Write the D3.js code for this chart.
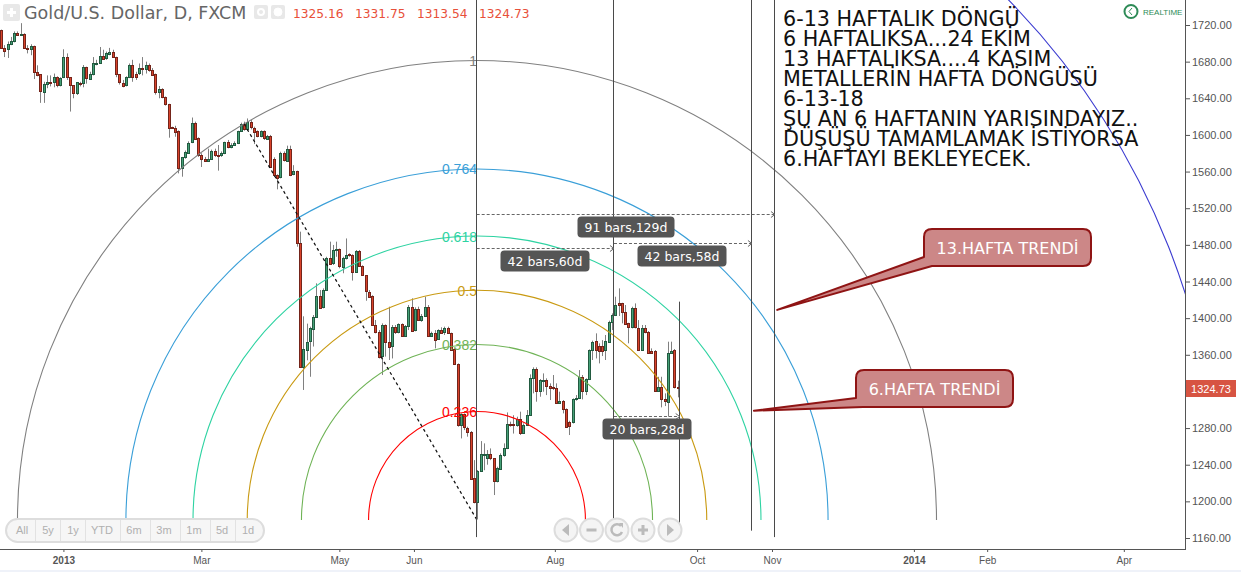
<!DOCTYPE html>
<html><head><meta charset="utf-8">
<script src="https://cdn.jsdelivr.net/npm/d3@7"></script>
<style>html,body{margin:0;padding:0;background:#fff;overflow:hidden}svg{display:block}</style>
</head><body><svg id="c" width="1241" height="572"></svg>
<script>
const opens=[1714.5,1695,1693,1699,1702,1711,1709,1710,1695,1694,
1697,1669,1666,1647,1656,1658,1658,1663,1654,1663,
1685,1663,1654,1645,1657,1656,1674,1661.4,1666,1678,
1678,1686,1683,1689,1691,1685,1666,1657,1654,1663,
1676,1666.5,1667,1673,1672,1676,1671,1667,1647,1650,
1641,1634,1608.6,1608,1604,1564,1576,1581,1592,1613,
1597,1578.5,1574,1572,1574,1582.5,1578,1578,1580,1592,
1586.5,1589,1591,1604,1612,1606,1614,1608,1604,1598.5,
1604,1596,1599,1574,1556.6,1553.7,1580,1572,1584.6,1556.6,
1560.6,1481.7,1346,1366,1374.3,1388.9,1401.6,1424.5,1411.8,1430.7,
1466,1459.9,1473.7,1475,1456,1465.3,1469.7,1469,1450.7,1473.3,
1457,1446.7,1429,1424,1392.5,1385,1359,1392.5,1374.3,1368.9,
1390,1384,1393.2,1380.5,1391.4,1412.5,1386.3,1409.6,1398,1402.3,
1412.5,1381.2,1384,1376.9,1387,1384.2,1388.9,1383.4,1365.9,1349.5,
1282.6,1295,1280.4,1276,1225,1198.9,1233,1250.5,1246.9,1251.3,
1246.9,1221.4,1235.3,1250.5,1257.8,1284.4,1284,1283,1289.9,1274.2,
1283,1294.2,1334.3,1344.4,1320.8,1332.4,1332.4,1326.2,1324.4,1324,
1308,1309.9,1300.8,1286.2,1286.2,1311.3,1312.8,1336,1320.4,1333.5,
1365.2,1374.6,1369.5,1369.5,1364.5,1374.6,1396,1403.4,1416.1,1416.1,
1406.3,1394.3,1389.6,1410.7,1389.6,1365.9,1389.6,1385.2,1364.5,1364,
1320.4,1324.4,1311.3,1308.8,1362.3,1365.2,1325.16];
const closes=[1695,1692,1699,1702,1711,1709,1710,1695,1694,1697,
1669,1666,1647,1656,1658,1657,1663,1654,1662,1685,
1663,1654,1645,1657.4,1656,1674,1662,1666.5,1678,1679,
1686,1683,1689,1691,1685,1666,1657,1654,1663,1676,
1663,1663,1673,1672,1676,1670,1666,1647,1650,1641,
1633,1608,1608,1604,1563.5,1576,1581.4,1591.5,1613,1596,
1578.5,1574,1572,1574,1582.5,1578,1577.5,1580,1592,1586.5,
1589,1591,1604,1612,1606,1614,1608,1604,1598.5,1604,
1596,1599,1565,1556.6,1553.7,1580,1572,1584.6,1556.6,1560.3,
1481.7,1346,1366,1374.3,1388.9,1401.6,1424.5,1411.8,1430.7,1466,
1459.9,1474.4,1475,1456,1465.3,1469,1468.6,1450.7,1473.3,1457,
1446.7,1429.3,1424,1392.5,1385,1358,1392.5,1374.3,1368.9,1390,
1384,1393.2,1380.5,1391.4,1412.5,1386.3,1409.6,1398,1402.3,1412.5,
1381.2,1384,1376.9,1387,1384.2,1388.9,1383.4,1365.2,1349.6,1283.3,
1295,1280.4,1276,1225,1198.9,1233,1251.3,1251.3,1251.3,1246.9,
1221.4,1236,1250.5,1257.8,1284,1283.3,1283.3,1289.9,1274.2,1283,
1294.2,1334.3,1344.4,1320.8,1332.4,1332.8,1326.2,1324.4,1323.3,1308,
1309.9,1300.8,1281.5,1281.5,1311.3,1312.8,1336,1320.4,1333.5,1365.2,
1373.6,1364.5,1364.5,1364.5,1374.6,1396,1403.4,1414.3,1414.3,1406.3,
1393.2,1389.6,1410.7,1389.6,1365.9,1389.6,1385.2,1362.6,1362.6,1320.4,
1324.4,1311.3,1308.8,1362.3,1364.5,1324.4,1324.73];
const highs=[1715,1698,1702,1707,1713,1713,1722,1711,1698,1699,
1697.5,1676,1666,1658,1665,1665,1667,1664,1663,1693.5,
1689,1663,1654,1657.4,1658,1676.3,1674.5,1669,1685,1682,
1696,1693,1691,1695,1693,1685.4,1666,1660,1664,1678,
1682,1669,1678,1685,1680,1678,1673,1667,1653.4,1651,
1642,1634,1609,1610,1605,1576,1583,1593,1619,1614.5,
1597.4,1580,1576,1585,1584,1585,1589,1582,1592.6,1594.5,
1591,1593,1604.6,1613.4,1614.5,1618,1616.3,1609,1605,1605,
1605,1600,1600,1575.5,1557,1581.7,1582,1588.3,1588.3,1567,
1561,1494.4,1402,1394,1390.7,1403.4,1438,1430.7,1432.5,1467,
1483.5,1479.9,1483.5,1476,1467,1487,1470.8,1469.7,1474.4,1474.4,
1457.7,1447,1430.7,1425,1398,1387,1394.3,1393.2,1412.5,1392.5,
1392.5,1394.3,1394.3,1392.5,1414.3,1421.6,1411.8,1412.5,1404.5,1423.4,
1414.3,1385.2,1387,1387.8,1390,1390.7,1390.7,1384.2,1367,1350.6,
1296,1296,1281.5,1276.8,1245,1234.2,1265.8,1263.3,1256,1257.8,
1247,1237.8,1252.4,1263.3,1297.1,1287,1294,1292.4,1297.9,1285.1,
1299.7,1338.6,1346.3,1346.3,1333.5,1339.7,1334.3,1328.8,1337.9,1328.8,
1319.7,1310.6,1301.5,1288,1312.4,1316,1343.3,1337.9,1334.3,1365.9,
1375.4,1383.4,1372.5,1376,1381.6,1397.2,1405.2,1423.4,1432.5,1416.8,
1414.3,1395,1412.5,1416.1,1397.9,1392.5,1392.5,1385.9,1367,1365.2,
1336,1336,1317.9,1374.3,1374.3,1366.3,1331.75];
const lows=[1695,1685,1684,1698,1701,1708,1708,1695,1689,1687,
1661,1664,1635,1635,1651,1653,1652,1652,1653,1662,
1660,1625.5,1640,1643.6,1653,1652,1656,1660,1665,1676,
1677.4,1682,1682,1687,1684,1663,1655,1652,1653,1662,
1658,1660,1665.4,1665,1667,1669,1664.3,1644,1640,1640,
1632,1597,1607,1598,1558,1554.4,1574,1580,1591,1595,
1576,1565,1571,1571,1572.6,1576,1561,1576,1579,1585.4,
1585.4,1588,1590,1603.6,1604.6,1604.6,1606,1590,1597.4,1597.4,
1594.5,1594.5,1565,1554.4,1540.6,1552.6,1571,1571,1555,1556,
1478,1346,1321.6,1354,1336,1369,1401,1410.7,1410.7,1430,
1459,1458,1467,1454.4,1449,1464,1467,1441,1449.6,1456,
1446,1419,1422.7,1391.8,1383.4,1356,1338,1358,1354.3,1356,
1382.7,1383.4,1379.8,1379.8,1387,1385.2,1385.6,1397.2,1396,1401.6,
1380.5,1379.8,1367,1376.2,1382.7,1381.6,1382.7,1364.5,1348.9,1281.5,
1268.7,1277.8,1270.6,1224.4,1197.8,1180.3,1232.4,1234,1240,1245,
1206.9,1220.7,1234.2,1248.7,1257,1281.5,1274,1281.5,1272.4,1273.5,
1282.2,1293.5,1317.9,1308.8,1314.2,1319.7,1316,1310.6,1321.5,1307,
1307,1296,1280.8,1272.4,1285,1309.9,1311.7,1311.3,1316,1332.4,
1354.3,1356,1350.6,1358.6,1354.3,1373.5,1387,1402.3,1402.3,1394.3,
1392.5,1372.5,1388.8,1388.8,1365.2,1365.2,1383.4,1361.5,1361.5,1319.7,
1319.7,1302.6,1304,1292.4,1361.5,1323.3,1313.54];
const priceTicks=[1720,1680,1640,1600,1560,1520,1480,1440,1400,1360,1280,1240,1200,1160];
const timeTickLabels=["2013","Mar","May","Jun","Aug","Oct","Nov","2014","Feb","Apr"];
const timeTickBars=[19,61,103,125.7,168.6,211.9,234.7,277.9,300.2,341.8];
const fibLevels=[0.236,0.382,0.5,0.618,0.764,1,1.618];
const fibLabels=["0.236","0.382","0.5","0.618","0.764","1",""];
const fibColors=["#ff0000","#6fb356","#c99a12","#2ed3a2","#3a9fd8","#808080","#3b3bd0"];
const fibAnchorBars=[74,144.9], fibAnchorPrices=[1612,1179.6];
const verticalBars=[144.8,186.6,228.6,235.6,206.6];
const verticalTops=[null,null,null,null,1418];
const verticalEnds=[1161,1161,1168,1161,1161];
const rangeLabels=["91 bars,129d","42 bars,60d","42 bars,58d","20 bars,28d"];
const rangeFrom=[144.8,144.8,186.6,186.6], rangeTo=[235.6,186.6,228.6,206.6];
const rangePrices=[1513.7,1476.6,1482,1293];
const ohlcLabels=["1325.16","1331.75","1313.54","1324.73"];
const noteLines=["6-13 HAFTALIK DÖNGÜ","6 HAFTALIKSA...24 EKİM","13 HAFTALIKSA....4 KASIM","METALLERİN HAFTA DÖNGÜSÜ","6-13-18","ŞU AN 6 HAFTANIN YARISINDAYIZ..","DÜŞÜŞÜ TAMAMLAMAK İSTİYORSA","6.HAFTAYI BEKLEYECEK."];
const calloutLabels=["13.HAFTA TRENDİ","6.HAFTA TRENDİ"];
const calloutTipBars=[236.3,229.2], calloutTipPrices=[1409,1299];
const rangeButtons=["All","5y","1y","YTD","6m","3m","1m","5d","1d"];

const svg=d3.select("#c");
const W=1241,H=572,axisX=1185,axisY=549;
const x=d3.scaleLinear().domain([0,206]).range([1,1+206*3.285]);
const y=d3.scaleLinear().domain([1720,1160]).range([25,538]);
const SANS="'Liberation Sans',Arial,sans-serif";
const DV="'DejaVu Sans',sans-serif";
svg.append("rect").attr("width",W).attr("height",H).attr("fill","#fff");
svg.append("defs").append("clipPath").attr("id","pane").append("rect").attr("width",axisX).attr("height",axisY);
const pane=svg.append("g").attr("clip-path","url(#pane)");

// candles
const bars=d3.range(opens.length);
const px=i=>Math.round(x(i));
const gc=pane.append("g");
gc.selectAll("line").data(bars).join("line")
 .attr("x1",i=>px(i)+.5).attr("x2",i=>px(i)+.5)
 .attr("y1",i=>y(highs[i])).attr("y2",i=>y(lows[i]))
 .attr("stroke","#808080").attr("stroke-width",1);
gc.selectAll("rect").data(bars).join("rect")
 .attr("x",i=>px(i)-.5).attr("width",2)
 .attr("y",i=>Math.round(y(Math.max(opens[i],closes[i])))+.5)
 .attr("height",i=>Math.max(1,Math.round(Math.abs(y(opens[i])-y(closes[i])))))
 .attr("fill",i=>closes[i]>=opens[i]?"#45a077":"#d9432b")
 .attr("stroke",i=>closes[i]>=opens[i]?"#225a40":"#74241a")
 .attr("stroke-width",1).attr("shape-rendering","crispEdges");

// fib arcs
const cx=x(fibAnchorBars[1]),cy=y(fibAnchorPrices[1]);
const R=Math.hypot(x(fibAnchorBars[0])-cx,y(fibAnchorPrices[0])-cy);
fibLevels.forEach((lv,k)=>{
  const p=d3.path();p.arc(cx,cy,R*lv,Math.PI,2*Math.PI);
  pane.append("path").attr("d",p.toString()).attr("fill","none").attr("stroke",fibColors[k]).attr("stroke-width",1.1);
  if(fibLabels[k]) pane.append("text").attr("x",cx).attr("y",cy-R*lv+5.5).attr("text-anchor","end")
    .attr("font-family",SANS).attr("font-size",14).attr("fill",fibColors[k]).text(fibLabels[k]);
});
pane.append("line").attr("x1",x(fibAnchorBars[0])).attr("y1",y(fibAnchorPrices[0])).attr("x2",cx).attr("y2",cy)
 .attr("stroke","#111").attr("stroke-width",1.25).attr("stroke-dasharray","3,3");

// verticals
verticalBars.forEach((b,k)=>{
  const xx=Math.round(x(b))-.5;
  pane.append("line").attr("x1",xx).attr("x2",xx)
   .attr("y1",verticalTops[k]==null?0:y(verticalTops[k])).attr("y2",y(verticalEnds[k]))
   .attr("stroke","#4a4a4a").attr("stroke-width",1);
});

// date ranges
rangeLabels.forEach((t,k)=>{
  const x1=x(rangeFrom[k]),x2=x(rangeTo[k]),yy=Math.round(y(rangePrices[k]))+.5;
  pane.append("line").attr("x1",x1).attr("x2",x2).attr("y1",yy).attr("y2",yy).attr("stroke","#666").attr("stroke-dasharray","3,2");
  pane.append("path").attr("d",`M${x2-4},${yy-3}L${x2},${yy}L${x2-4},${yy+3}`).attr("fill","none").attr("stroke","#666");
});
const tagCenters=[[626,227],[545,261],[682,256],[647,429]];
rangeLabels.forEach((t,k)=>{
  const g=pane.append("g").attr("transform",`translate(${tagCenters[k]})`);
  const w=k==0?97:89;
  g.append("rect").attr("x",-w/2).attr("y",-10.5).attr("width",w).attr("height",21).attr("rx",4).attr("fill","#555");
  g.append("text").attr("text-anchor","middle").attr("y",4.5).attr("font-family",DV).attr("font-size",12.5).attr("fill","#fff").text(t);
});

// callouts
const boxes=[[924,229,167,37,257,932],[856,370,157,37,398,863]];
calloutLabels.forEach((t,k)=>{
  const [bx,by,bw,bh,ty,tx]=boxes[k],tipX=x(calloutTipBars[k]),tipY=y(calloutTipPrices[k]),r=8;
  const d=`M${bx+r},${by}H${bx+bw-r}Q${bx+bw},${by} ${bx+bw},${by+r}V${by+bh-r}Q${bx+bw},${by+bh} ${bx+bw-r},${by+bh}H${tx}L${tipX},${tipY}L${bx},${ty}V${by+r}Q${bx},${by} ${bx+r},${by}Z`;
  pane.append("path").attr("d",d).attr("fill","#cc8787").attr("stroke","#8f1414").attr("stroke-width",2).attr("stroke-linejoin","round");
  pane.append("text").attr("x",bx+bw/2).attr("y",by+bh/2+6).attr("text-anchor","middle").attr("font-family",DV).attr("font-size",16).attr("fill","#fff").text(t);
});

// notes
noteLines.forEach((t,k)=>{
  svg.append("text").attr("x",783).attr("y",26+k*20).attr("font-family",DV).attr("font-size",20.7).attr("fill","#111").text(t);
});

// axes
const ax=svg.append("g").attr("font-family",SANS);
ax.append("rect").attr("x",axisX).attr("width",W-axisX).attr("height",H).attr("fill","#fff");
ax.append("line").attr("x1",axisX+.5).attr("x2",axisX+.5).attr("y1",0).attr("y2",axisY).attr("stroke","#555");
ax.append("line").attr("x1",0).attr("x2",axisX+1).attr("y1",axisY+.5).attr("y2",axisY+.5).attr("stroke","#555");
const yAxis=d3.axisRight(y).tickValues(priceTicks).tickSize(5).tickPadding(2).tickFormat(d3.format(".2f"));
const ga=svg.append("g").attr("transform",`translate(${axisX},0)`).call(yAxis);
ga.select(".domain").remove();
ga.selectAll("line").attr("stroke","#555");
ga.selectAll("text").attr("font-family",SANS).attr("font-size",11).attr("fill","#555");
const xAxis=d3.axisBottom(x).tickValues(timeTickBars).tickSize(3).tickPadding(5).tickFormat((d,i)=>timeTickLabels[i]);
const gb=svg.append("g").attr("transform",`translate(0,${axisY})`).call(xAxis);
gb.select(".domain").remove();
gb.selectAll("line").attr("stroke","#555");
gb.selectAll("text").attr("font-family",SANS).attr("font-size",10).attr("fill","#555")
  .attr("font-weight",(d,i)=>/^\d/.test(timeTickLabels[i])?"bold":"normal");
svg.append("rect").attr("y",570).attr("width",W).attr("height",2).attr("fill","#eff2f9");

// last price
svg.append("rect").attr("x",1186).attr("y",380).attr("width",50).attr("height",17).attr("fill","#d75442");
svg.append("text").attr("x",1211).attr("y",392.5).attr("text-anchor","middle").attr("font-family",SANS).attr("font-size",11).attr("fill","#fff").text(d3.format(".2f")(closes[closes.length-1]));

// header
svg.append("rect").attr("x",3).attr("y",4).attr("width",17).attr("height",17).attr("rx",2).attr("fill","#e8e8e8");
svg.append("path").attr("d","M11.5,8V17M7,12.5H16").attr("stroke","#fff").attr("stroke-width",3);
svg.append("text").attr("x",24).attr("y",18.5).attr("font-family",DV).attr("font-size",17.5).attr("fill","#666").text("Gold/U.S. Dollar, D, FXCM");
[254,271].forEach((ix,k)=>{
  svg.append("rect").attr("x",ix).attr("y",5).attr("width",14).attr("height",14).attr("rx",2).attr("fill","#e8e8e8");
  svg.append("circle").attr("cx",ix+7).attr("cy",12).attr("r",k?4:3).attr("fill",k?"#fff":"none").attr("stroke","#fff").attr("stroke-width",k?1:2);
});
[293,355,417,479].forEach((tx,k)=>{
  svg.append("text").attr("x",tx).attr("y",18).attr("font-family",DV).attr("font-size",12.2).attr("fill","#e8503a").text(ohlcLabels[k]);
});

// realtime
svg.append("circle").attr("cx",1131).attr("cy",11.5).attr("r",6.5).attr("fill","#fff").attr("stroke","#2e8b57").attr("stroke-width",2);
svg.append("path").attr("d","M1132,8L1129,11.5L1132,15").attr("fill","none").attr("stroke","#2e8b57").attr("stroke-width",1);
svg.append("text").attr("x",1143).attr("y",15).attr("font-family",SANS).attr("font-size",8).attr("fill","#2e8b57").text("REALTIME");

// range selector
const ui=svg.append("g");
ui.append("rect").attr("x",6).attr("y",519).attr("width",258).attr("height",23).attr("rx",11.5).attr("fill","#f6f6f6").attr("stroke","#ddd").attr("stroke-width",2);
[35,60,85,120,150,180,210,235].forEach(d=>ui.append("line").attr("x1",d+.5).attr("x2",d+.5).attr("y1",520).attr("y2",541).attr("stroke","#e2e2e2"));
[22,48,73,102,134,164,194,222,248].forEach((c,k)=>ui.append("text").attr("x",c).attr("y",534).attr("text-anchor","middle").attr("font-family",SANS).attr("font-size",11).attr("fill","#b0b0b0").text(rangeButtons[k]));
[566,591.5,617,643,670].forEach((c,k)=>{
  ui.append("circle").attr("cx",c).attr("cy",530).attr("r",11.5).attr("fill","#f4f4f4").attr("stroke","#ddd").attr("stroke-width",2);
  const gl=ui.append("g").attr("transform",`translate(${c},530)`);
  if(k==0) gl.append("path").attr("d","M3,-6V6L-4,0Z").attr("fill","#bbb");
  if(k==4) gl.append("path").attr("d","M-3,-6V6L4,0Z").attr("fill","#bbb");
  if(k==1||k==3) gl.append("path").attr("d","M-5,0H5").attr("stroke","#bbb").attr("stroke-width",3);
  if(k==3) gl.append("path").attr("d","M0,-5V5").attr("stroke","#bbb").attr("stroke-width",3);
  if(k==2){gl.append("path").attr("d","M4,-4A5.5,5.5 0 1 0 5,2").attr("fill","none").attr("stroke","#bbb").attr("stroke-width",2.5);
    gl.append("path").attr("d","M2,-7H6V-2Z").attr("fill","#bbb");}
});
</script></body></html>
